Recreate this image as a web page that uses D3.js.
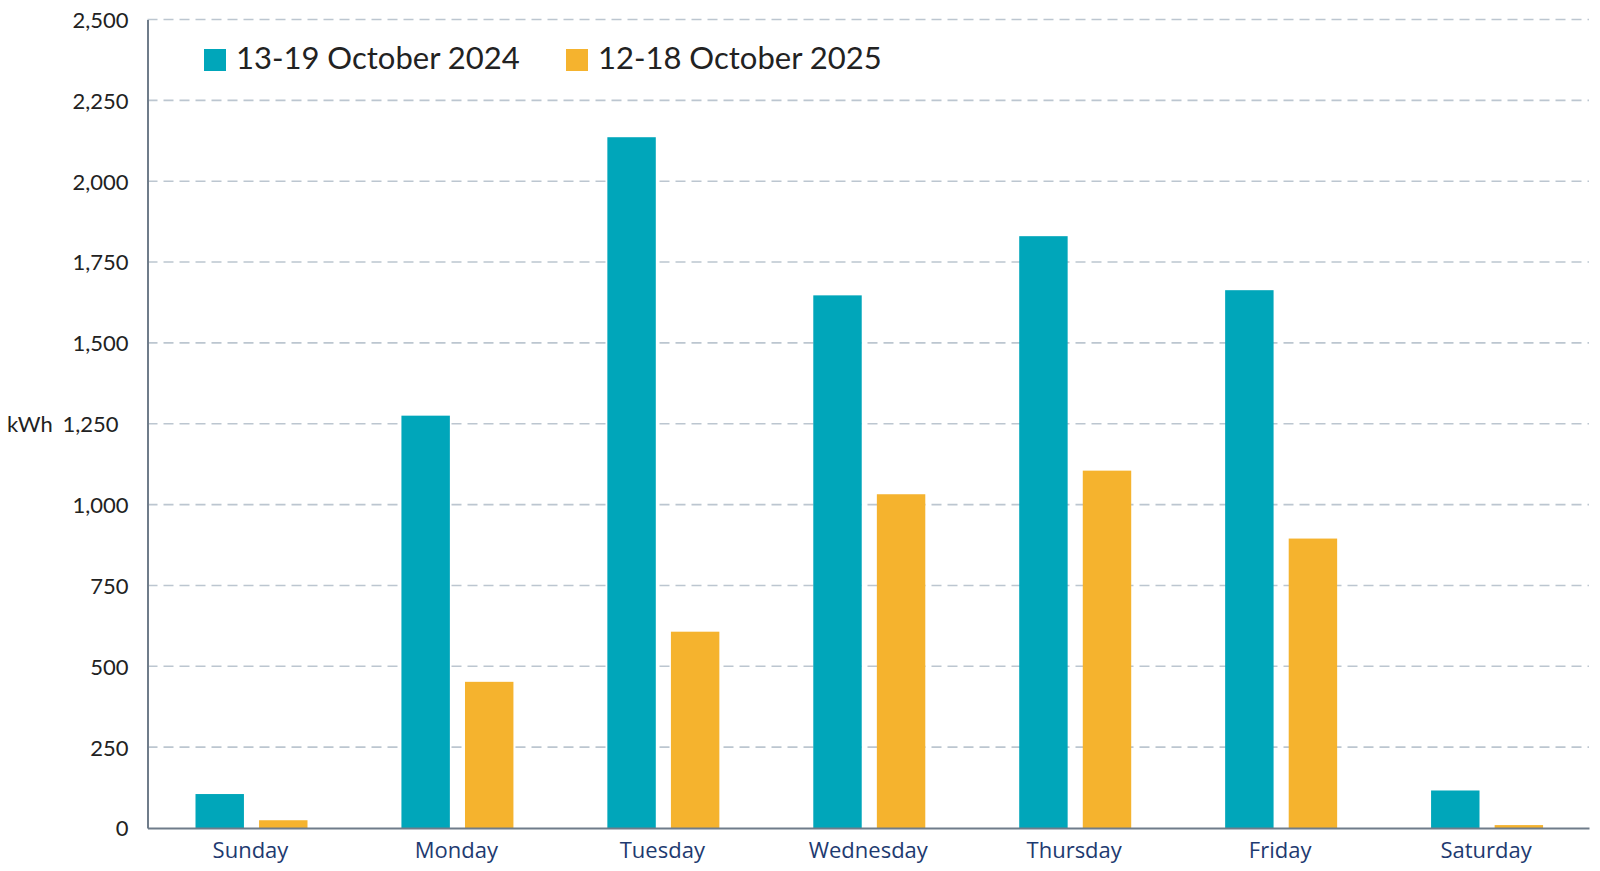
<!DOCTYPE html>
<html>
<head>
<meta charset="utf-8">
<script src="https://cdn.jsdelivr.net/npm/d3@7"></script>
<style>
  html, body { margin: 0; padding: 0; background: #ffffff; }
  svg { display: block; }
</style>
</head>
<body>
<svg id="chart" width="1600" height="871"></svg>
<script>
const days = ["Sunday", "Monday", "Tuesday", "Wednesday", "Thursday", "Friday", "Saturday"];
const seriesNames = ["13-19 October 2024", "12-18 October 2025"];
const values2024 = [105, 1275, 2136, 1647, 1830, 1663, 116];
const values2025 = [24, 452, 607, 1032, 1105, 895, 9];
const yTicks = [0, 250, 500, 750, 1000, 1250, 1500, 1750, 2000, 2250, 2500];
const colors = ["#00A6BA", "#F5B32E"];

(function () {
const svg = d3.select("#chart");
const mLeft = 147.5, mRight = 1589, mTop = 19.5, mBottom = 828;
const labelFont = "Lato, 'Open Sans', sans-serif";

const x0 = d3.scaleBand().domain(days).range([mLeft, mRight]).padding(0);
const x1 = d3.scaleBand().domain(seriesNames).range([48, 160]).paddingInner(0.238).paddingOuter(0);
const y = d3.scaleLinear().domain([0, 2500]).range([mBottom, mTop]);

// gridlines
svg.append("g")
  .selectAll("line")
  .data(yTicks.filter(t => t > 0))
  .join("line")
  .attr("x1", mLeft).attr("x2", mRight)
  .attr("y1", d => y(d)).attr("y2", d => y(d))
  .attr("stroke", "#BCC6D0")
  .attr("stroke-width", 1.6)
  .attr("stroke-dasharray", "10,6");

// bars
const rows = days.map((d, i) => ({ day: d, vals: [values2024[i], values2025[i]] }));
const groups = svg.append("g").selectAll("g")
  .data(rows).join("g")
  .attr("transform", d => `translate(${x0(d.day)},0)`);
groups.selectAll("rect")
  .data(d => d.vals.map((v, k) => ({ key: seriesNames[k], v, k })))
  .join("rect")
  .attr("x", d => x1(d.key))
  .attr("width", x1.bandwidth())
  .attr("y", d => y(d.v))
  .attr("height", d => y(0) - y(d.v))
  .attr("fill", d => colors[d.k]);

// y axis
const yAxis = d3.axisLeft(y).tickValues(yTicks).tickSize(0).tickPadding(19)
  .tickFormat(d3.format(","));
const gy = svg.append("g").attr("transform", `translate(${mLeft},0)`).call(yAxis);
gy.select(".domain").attr("stroke", "#6F7C8A").attr("stroke-width", 2);
gy.selectAll("text")
  .attr("font-family", labelFont)
  .attr("font-size", 22)
  .attr("fill", "#222222")
  .attr("dy", "0.36em");
gy.selectAll(".tick").filter(d => d === 1250).select("text").attr("dx", -10);

// y axis title
svg.append("text")
  .attr("x", 7).attr("y", y(1250))
  .attr("dy", "0.36em")
  .attr("font-family", labelFont)
  .attr("font-size", 22)
  .attr("fill", "#222222")
  .text("kWh");

// x axis
const xAxis = d3.axisBottom(x0).tickSize(0).tickPadding(14);
const gx = svg.append("g").attr("transform", `translate(0,${mBottom})`).call(xAxis);
gx.select(".domain").attr("stroke", "#6F7C8A").attr("stroke-width", 2);
gx.selectAll("text")
  .attr("font-family", "'Open Sans', sans-serif")
  .attr("font-size", 22)
  .attr("fill", "#1E3A70");

// legend
const legendX = [204, 566];
const lg = svg.append("g").selectAll("g")
  .data(seriesNames).join("g")
  .attr("transform", (d, i) => `translate(${legendX[i]},49)`);
lg.append("rect").attr("width", 22).attr("height", 22).attr("fill", (d, i) => colors[i]);
lg.append("text")
  .attr("x", 32).attr("y", 20)
  .attr("font-family", labelFont)
  .attr("font-size", 31)
  .attr("fill", "#222222")
  .text(d => d);
})();
</script>
</body>
</html>
